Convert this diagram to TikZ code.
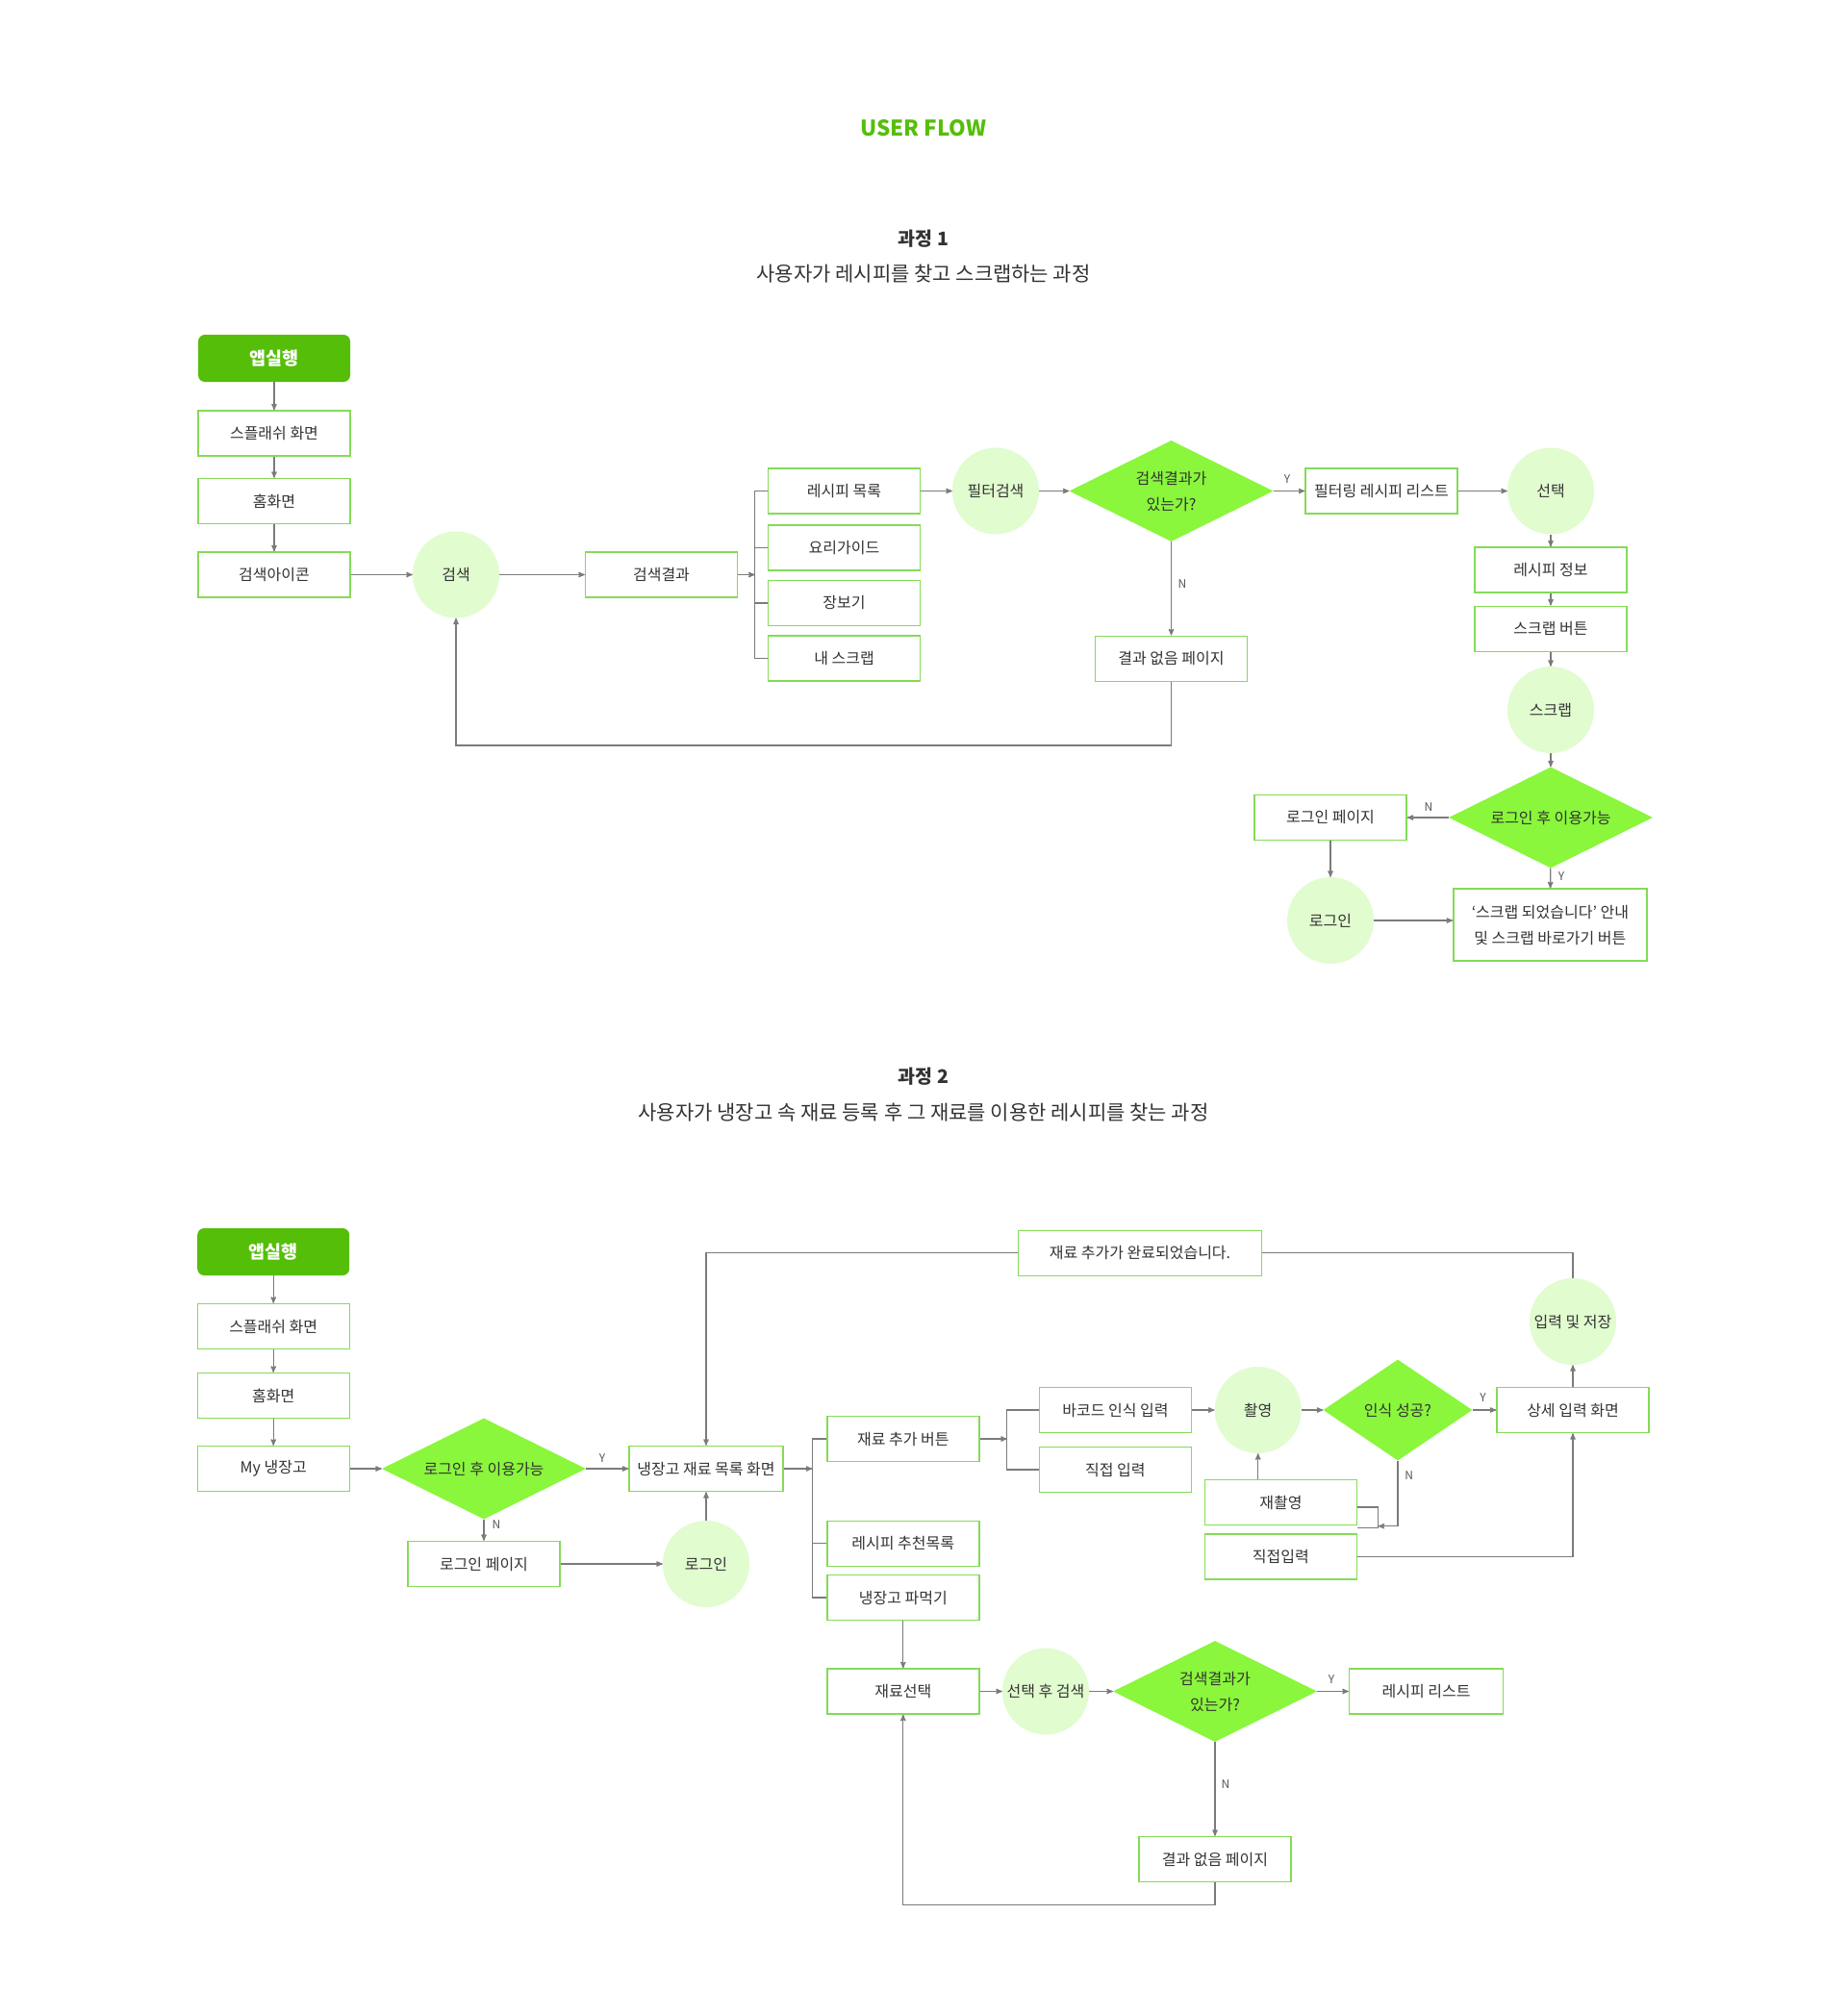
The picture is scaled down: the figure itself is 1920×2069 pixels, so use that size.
\documentclass[tikz,border=0pt]{standalone}
\usepackage{fontspec}
\setmainfont{Noto Sans CJK KR}
\usetikzlibrary{arrows,shapes.geometric}

\definecolor{appgreen}{HTML}{55BE09}
\definecolor{boxline}{HTML}{84DB57}
\definecolor{circfill}{HTML}{E1FCCF}
\definecolor{diafill}{HTML}{8AF63C}
\definecolor{linegray}{HTML}{7B7B7B}
\definecolor{txt}{HTML}{333333}
\definecolor{yngray}{HTML}{555555}
\newcommand{\boxfont}{\fontsize{16}{27}\selectfont}

\begin{document}
\begin{tikzpicture}[x=1pt,y=-1pt,>=stealth',
    box/.style={rectangle,draw=boxline,line width=1.4pt,fill=white,minimum width=158pt,minimum height=47pt,inner sep=0pt,align=center,font=\boxfont,text=txt},
    start/.style={rectangle,rounded corners=7pt,fill=appgreen,minimum width=158pt,minimum height=49pt,text=white,font=\bfseries\fontsize{18.5}{22}\selectfont},
    stop/.style={circle,fill=circfill,minimum size=90pt,inner sep=0pt,font=\boxfont,text=txt},
    ask/.style={diamond,aspect=2,fill=diafill,minimum width=212pt,minimum height=105pt,inner sep=0pt,align=center,font=\boxfont,text=txt},
    flow/.style={->,draw=linegray,line width=1.3pt},
    link/.style={-,draw=linegray,line width=1.3pt},
    yn/.style={font=\fontsize{12}{14}\selectfont,text=yngray},
    head/.style={font=\fontsize{21}{26}\selectfont,text=txt}]

  \useasboundingbox (0,0) rectangle (1920,2069);

  % titles
  \node[font=\bfseries\fontsize{22.5}{28}\selectfont,text=appgreen] (title) at (960,133) {USER FLOW};
  \node[head,font=\bfseries\fontsize{19.5}{24}\selectfont] (head1) at (960,248) {과정 1};
  \node[head] (sub1) at (960,285) {사용자가 레시피를 찾고 스크랩하는 과정};
  \node[head,font=\bfseries\fontsize{19.5}{24}\selectfont] (head2) at (960,1119) {과정 2};
  \node[head] (sub2) at (960,1157) {사용자가 냉장고 속 재료 등록 후 그 재료를 이용한 레시피를 찾는 과정};

  % process 1
  \node[start] (app1) at (285,372.5) {앱실행};
  \node[box] (splash1) at (285,450.5) {스플래쉬 화면};
  \node[box] (home1) at (285,521) {홈화면};
  \node[box] (icon1) at (285,597.5) {검색아이콘};
  \node[stop] (search1) at (474,597.5) {검색};
  \node[box] (result1) at (687.5,597.5) {검색결과};
  \node[box] (recipe1) at (877.5,510.5) {레시피 목록};
  \node[box] (guide1) at (877.5,569.5) {요리가이드};
  \node[box] (market1) at (877.5,627) {장보기};
  \node[box] (myscrap1) at (877.5,684.6) {내 스크랩};
  \node[stop] (filter1) at (1035,510.5) {필터검색};
  \node[ask] (dec1) at (1217.5,510.5) {검색결과가\\있는가?};
  \node[box] (filtered1) at (1436,510.5) {필터링 레시피 리스트};
  \node[stop] (pick1) at (1612,510.5) {선택};
  \node[box] (info1) at (1612,592.6) {레시피 정보};
  \node[box] (scrapbtn1) at (1612,653.7) {스크랩 버튼};
  \node[stop] (scrap1) at (1612,738) {스크랩};
  \node[ask] (dec2) at (1612,850) {로그인 후 이용가능};
  \node[box] (loginpg1) at (1383,850) {로그인 페이지};
  \node[stop] (login1) at (1383,957) {로그인};
  \node[box,minimum width=201pt,minimum height=75pt] (done1) at (1611.4,961.6) {‘스크랩 되었습니다’ 안내\\및 스크랩 바로가기 버튼};
  \node[box] (noresult1) at (1217.5,684.7) {결과 없음 페이지};
  \coordinate (fork1) at (784.7,597.5);

  \node[yn] (y1) at (1338,498) {Y};
  \node[yn] (n1) at (1229,607.4) {N};
  \node[yn] (n2) at (1485,839) {N};
  \node[yn] (y2) at (1623,911) {Y};

  \path[flow]
    (app1) edge (splash1)
    (splash1) edge (home1)
    (home1) edge (icon1)
    (icon1) edge (search1)
    (search1) edge (result1)
    (result1) edge (fork1)
    (recipe1) edge (filter1)
    (filter1) edge (dec1)
    (dec1) edge (filtered1)
    (filtered1) edge (pick1)
    (pick1) edge (info1)
    (info1) edge (scrapbtn1)
    (scrapbtn1) edge (scrap1)
    (scrap1) edge (dec2)
    (dec2) edge (loginpg1)
    (dec2) edge (done1)
    (loginpg1) edge (login1)
    (dec1) edge (noresult1);
  \draw[flow] (login1.east) -- (login1.east -| done1.west);
  \draw[flow] (noresult1.south) -- ++(0,66) -| (search1.south);
  \draw[link] (recipe1.west) -| (fork1) |- (myscrap1.west);
  \draw[link] (guide1.west) -- (guide1.west -| fork1);
  \draw[link] (market1.west) -- (market1.west -| fork1);

  % process 2
  \node[start] (app2) at (284.2,1301.5) {앱실행};
  \node[box] (splash2) at (284.2,1379) {스플래쉬 화면};
  \node[box] (home2) at (284.2,1451) {홈화면};
  \node[box] (fridge2) at (284.2,1527) {My 냉장고};
  \node[ask] (dec3) at (503,1527) {로그인 후 이용가능};
  \node[box,minimum width=160pt] (list2) at (734,1527) {냉장고 재료 목록 화면};
  \node[box] (loginpg2) at (503,1626) {로그인 페이지};
  \node[stop] (login2) at (734,1626) {로그인};
  \node[box,minimum width=253pt] (added2) at (1185,1302.7) {재료 추가가 완료되었습니다.};
  \node[box] (addbtn2) at (938.8,1496) {재료 추가 버튼};
  \node[box] (recommend2) at (938.8,1604.7) {레시피 추천목록};
  \node[box] (eat2) at (938.8,1661) {냉장고 파먹기};
  \node[box] (barcode2) at (1159.4,1466) {바코드 인식 입력};
  \node[box] (direct2) at (1159.4,1528) {직접 입력};
  \node[stop] (shoot2) at (1307.7,1466) {촬영};
  \node[ask,minimum width=155pt] (dec4) at (1453,1466) {인식 성공?};
  \node[box] (detail2) at (1635,1466) {상세 입력 화면};
  \node[stop] (save2) at (1635,1374) {입력 및 저장};
  \node[box] (retake2) at (1331.4,1562) {재촬영};
  \node[box] (manual2) at (1331.4,1618.5) {직접입력};
  \node[box] (select2) at (938.8,1758.5) {재료선택};
  \node[stop] (after2) at (1087,1758.5) {선택 후 검색};
  \node[ask] (dec5) at (1263,1758.5) {검색결과가\\있는가?};
  \node[box,minimum width=160pt] (recipes2) at (1482.5,1758.5) {레시피 리스트};
  \node[box] (noresult2) at (1263,1933) {결과 없음 페이지};
  \coordinate (fork2) at (844.3,1527);
  \coordinate (fork3) at (1046.8,1496);
  \coordinate (fork4) at (1432.6,1586.7);

  \node[yn] (y3) at (626,1516) {Y};
  \node[yn] (n3) at (516,1585) {N};
  \node[yn] (y4) at (1541.5,1452.7) {Y};
  \node[yn] (n4) at (1464.6,1534) {N};
  \node[yn] (y5) at (1384,1746) {Y};
  \node[yn] (n5) at (1274,1855) {N};

  \path[flow]
    (app2) edge (splash2)
    (splash2) edge (home2)
    (home2) edge (fridge2)
    (fridge2) edge (dec3)
    (dec3) edge (list2)
    (dec3) edge (loginpg2)
    (loginpg2) edge (login2)
    (login2) edge (list2)
    (list2) edge (fork2)
    (addbtn2) edge (fork3)
    (barcode2) edge (shoot2)
    (shoot2) edge (dec4)
    (dec4) edge (detail2)
    (detail2) edge (save2)
    (eat2) edge (select2)
    (select2) edge (after2)
    (after2) edge (dec5)
    (dec5) edge (recipes2)
    (dec5) edge (noresult2);
  \draw[link] (save2.north) |- (added2.east);
  \draw[flow] (added2.west) -| (list2.north);
  \draw[link] (addbtn2.west) -| (fork2) |- (eat2.west);
  \draw[link] (recommend2.west) -- (recommend2.west -| fork2);
  \draw[link] (barcode2.west) -| (fork3) |- (direct2.west);
  \draw[flow] (dec4.south) |- (fork4);
  \draw[link] ([yshift=-5pt]retake2.east) -| (fork4) |- ([yshift=6pt]manual2.north east);
  \draw[flow] (shoot2.south |- retake2.north) -- (shoot2.south);
  \draw[flow] (manual2.east) -| (detail2.south);
  \draw[flow] (noresult2.south) -- ++(0,23) -| (select2.south);
\end{tikzpicture}
\end{document}
